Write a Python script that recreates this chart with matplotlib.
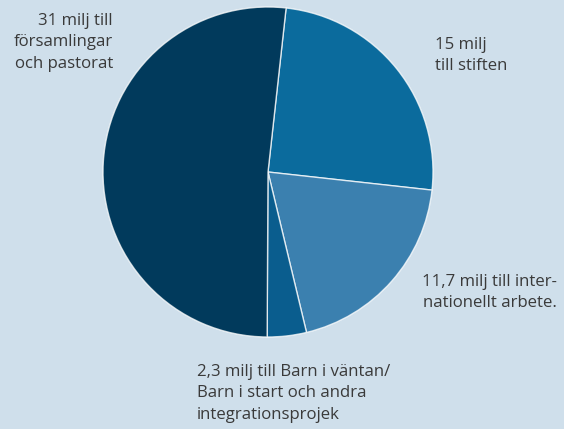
import matplotlib
matplotlib.use("Agg")
import matplotlib.pyplot as plt

values = [15, 11.7, 2.3, 31]
colors = ["#0b6b9d", "#3b80af", "#0a5d8e", "#013a5c"]
labels = ["15 milj\ntill stiften",
          "11,7 milj till inter-\nnationellt arbete.",
          "2,3 milj till Barn i väntan/\nBarn i start och andra\nintegrationsprojek",
          "31 milj till\nförsamlingar\noch pastorat"]

W, H = 564, 429
bg = "#cfdfeb"
fig = plt.figure(figsize=(W / 100, H / 100), dpi=100, facecolor=bg)

cx, cy, r = 268, 172, 165
ax = fig.add_axes([(cx - r) / W, (H - cy - r) / H, 2 * r / W, 2 * r / H])
ax.set_facecolor(bg)
ax.pie(values, colors=colors, startangle=83.7, counterclock=False, radius=1,
       wedgeprops=dict(edgecolor=(1, 1, 1, 0.75), linewidth=1.0))
ax.set_xlim(-1, 1)
ax.set_ylim(-1, 1)
ax.axis("off")

font = dict(family=["Open Sans", "DejaVu Sans"], fontsize=12.1, color="#3a3a3a",
            linespacing=1.45)

def put(x, y, s, ha):
    fig.text(x / W, 1 - y / H, s, ha=ha, va="top", **font)

put(113, 13, labels[3], "right")
put(435, 37, labels[0], "left")
put(557, 274, labels[1], "right")
put(197, 364, labels[2], "left")

fig.savefig("out.png", dpi=100, facecolor=bg)
